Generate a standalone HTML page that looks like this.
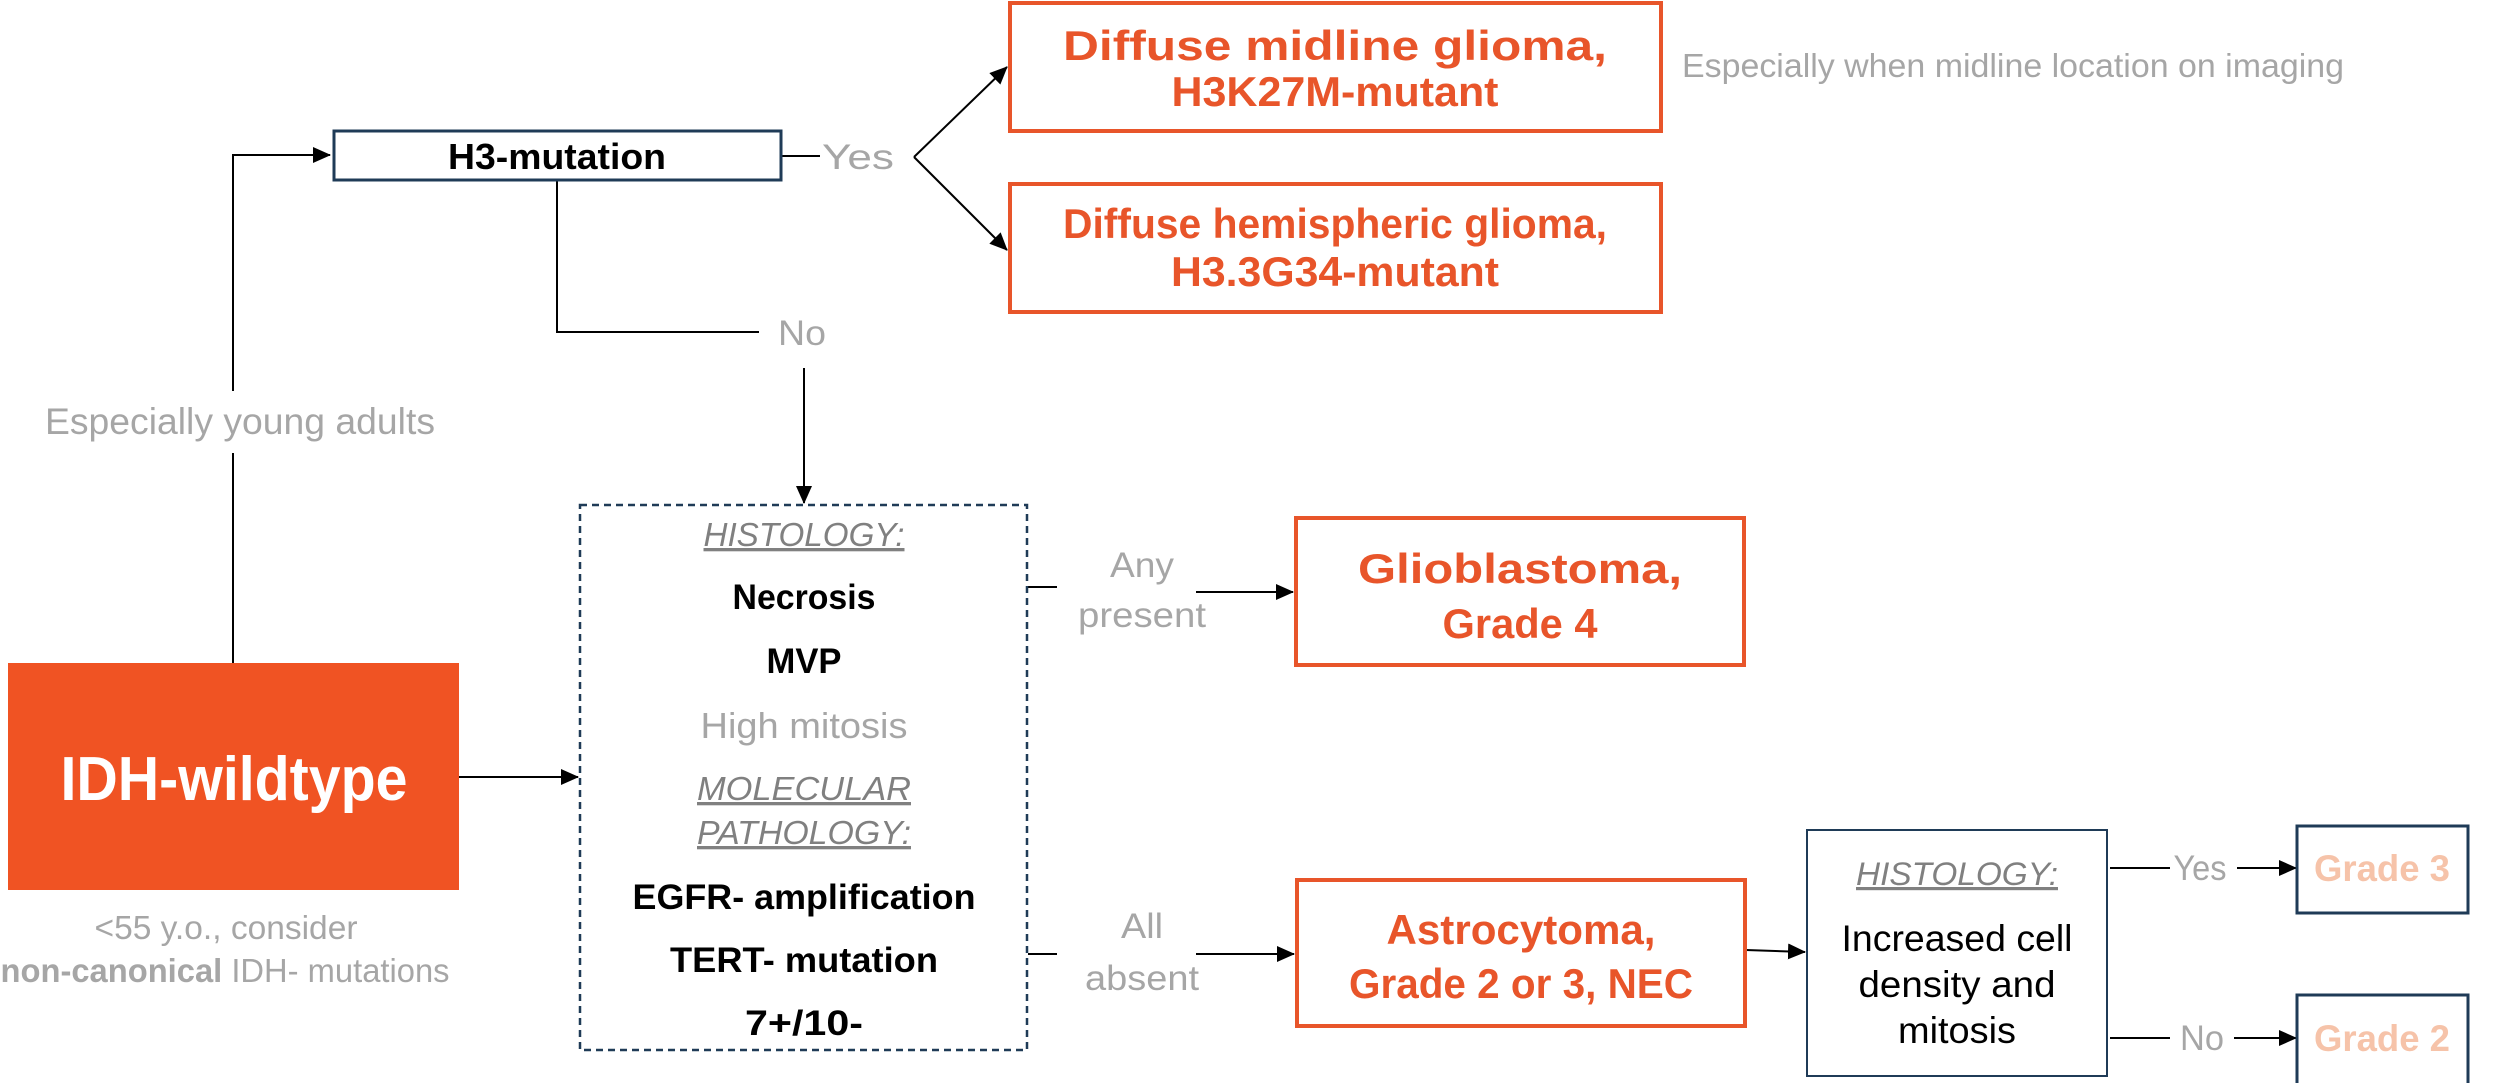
<!DOCTYPE html>
<html><head><meta charset="utf-8"><style>
html,body{margin:0;padding:0;background:#fff}
svg{display:block}
text{font-family:"Liberation Sans",sans-serif}
.o{fill:#e8552a;font-weight:bold;font-size:42px}
.g{fill:#a6a6a6;font-size:35px}
.b{fill:#000;font-weight:bold;font-size:35px}
.it{fill:#808080;font-style:italic;font-size:33px;text-decoration:underline}
</style></head><body>
<svg width="2500" height="1083" viewBox="0 0 2500 1083" xmlns="http://www.w3.org/2000/svg">
<defs>
<marker id="s" markerWidth="18" markerHeight="16" refX="17" refY="8" orient="auto" markerUnits="userSpaceOnUse"><path d="M0,0 L18,8 L0,16 z" fill="#000"/></marker></defs>
<g stroke="#000" stroke-width="2" fill="none">
<polyline points="233,391 233,155 330,155" marker-end="url(#s)"/>
<line x1="233" y1="453" x2="233" y2="664"/>
<line x1="781" y1="156" x2="820" y2="156"/>
<line x1="914" y1="157" x2="1007" y2="67" marker-end="url(#s)"/>
<line x1="914" y1="157" x2="1007" y2="250" marker-end="url(#s)"/>
<polyline points="557,180 557,332 759,332"/>
<line x1="804" y1="368" x2="804" y2="503" marker-end="url(#s)"/>
<line x1="459" y1="777" x2="578" y2="777" marker-end="url(#s)"/>
<line x1="1028" y1="587" x2="1057" y2="587"/>
<line x1="1196" y1="592" x2="1293" y2="592" marker-end="url(#s)"/>
<line x1="1028" y1="954" x2="1057" y2="954"/>
<line x1="1196" y1="954" x2="1294" y2="954" marker-end="url(#s)"/>
<line x1="1746" y1="950" x2="1805" y2="952" marker-end="url(#s)"/>
<line x1="2110" y1="868" x2="2170" y2="868"/>
<line x1="2237" y1="868" x2="2296" y2="868" marker-end="url(#s)"/>
<line x1="2110" y1="1038" x2="2170" y2="1038"/>
<line x1="2234" y1="1038" x2="2296" y2="1038" marker-end="url(#s)"/>
</g>
<rect x="1010" y="3" width="651" height="128" fill="#fff" stroke="#e8552a" stroke-width="4"/>
<rect x="1010" y="184" width="651" height="128" fill="#fff" stroke="#e8552a" stroke-width="4"/>
<rect x="334" y="131" width="447" height="49" fill="#fff" stroke="#1f3b57" stroke-width="3"/>
<rect x="8" y="663" width="451" height="227" fill="#f05323"/>
<rect x="580" y="505" width="447" height="545" fill="none" stroke="#1f3b57" stroke-width="2.5" stroke-dasharray="7,5"/>
<rect x="1296" y="518" width="448" height="147" fill="#fff" stroke="#e8552a" stroke-width="4"/>
<rect x="1297" y="880" width="448" height="146" fill="#fff" stroke="#e8552a" stroke-width="4"/>
<rect x="1807" y="830" width="300" height="246" fill="#fff" stroke="#1f3b57" stroke-width="2"/>
<rect x="2297" y="826" width="171" height="87" fill="#fff" stroke="#1f3b57" stroke-width="3"/>
<rect x="2297" y="995" width="171" height="90" fill="#fff" stroke="#1f3b57" stroke-width="3"/>
<g text-anchor="middle">
<text class="o" x="1335" y="60" textLength="544" lengthAdjust="spacingAndGlyphs">Diffuse midline glioma,</text>
<text class="o" x="1335" y="106" textLength="327" lengthAdjust="spacingAndGlyphs">H3K27M-mutant</text>
<text class="o" x="1335" y="238" textLength="544" lengthAdjust="spacingAndGlyphs">Diffuse hemispheric glioma,</text>
<text class="o" x="1335" y="286" textLength="328" lengthAdjust="spacingAndGlyphs">H3.3G34-mutant</text>
<text x="557" y="169" style="font-weight:bold;font-size:36px;fill:#000" textLength="218" lengthAdjust="spacingAndGlyphs">H3-mutation</text>
<text class="g" x="858" y="169" textLength="72" lengthAdjust="spacingAndGlyphs">Yes</text>
<text class="g" x="802" y="345" textLength="48" lengthAdjust="spacingAndGlyphs">No</text>
<text class="g" x="240" y="434" style="font-size:37px" textLength="390" lengthAdjust="spacingAndGlyphs">Especially young adults</text>
<text x="234" y="800" style="fill:#fff;font-size:62px;font-weight:bold" textLength="347" lengthAdjust="spacingAndGlyphs">IDH-wildtype</text>
<text class="g" x="226" y="939" style="font-size:33px" textLength="263" lengthAdjust="spacingAndGlyphs">&lt;55 y.o., consider</text>
<text class="g" x="225" y="982" style="font-size:33px" textLength="449" lengthAdjust="spacingAndGlyphs"><tspan style="font-weight:bold">non-canonical</tspan> IDH- mutations</text>
<text class="it" x="804" y="546" textLength="201" lengthAdjust="spacingAndGlyphs">HISTOLOGY:</text>
<text class="b" x="804" y="609" textLength="143" lengthAdjust="spacingAndGlyphs">Necrosis</text>
<text class="b" x="804" y="673" textLength="75" lengthAdjust="spacingAndGlyphs">MVP</text>
<text class="g" x="804" y="738" style="font-size:36px" textLength="207" lengthAdjust="spacingAndGlyphs">High mitosis</text>
<text class="it" x="804" y="800" textLength="214" lengthAdjust="spacingAndGlyphs">MOLECULAR</text>
<text class="it" x="804" y="844" textLength="214" lengthAdjust="spacingAndGlyphs">PATHOLOGY:</text>
<text class="b" x="804" y="909" textLength="343" lengthAdjust="spacingAndGlyphs">EGFR- amplification</text>
<text class="b" x="804" y="972" textLength="268" lengthAdjust="spacingAndGlyphs">TERT- mutation</text>
<text class="b" x="804" y="1035" textLength="118" lengthAdjust="spacingAndGlyphs">7+/10-</text>
<text class="g" x="1142" y="577" textLength="64" lengthAdjust="spacingAndGlyphs">Any</text>
<text class="g" x="1142" y="627" textLength="128" lengthAdjust="spacingAndGlyphs">present</text>
<text class="g" x="1142" y="938" textLength="42" lengthAdjust="spacingAndGlyphs">All</text>
<text class="g" x="1142" y="990" textLength="114" lengthAdjust="spacingAndGlyphs">absent</text>
<text class="o" x="1520" y="583" textLength="324" lengthAdjust="spacingAndGlyphs">Glioblastoma,</text>
<text class="o" x="1520" y="638" textLength="155" lengthAdjust="spacingAndGlyphs">Grade 4</text>
<text class="o" x="1521" y="944" textLength="269" lengthAdjust="spacingAndGlyphs">Astrocytoma,</text>
<text class="o" x="1521" y="998" textLength="344" lengthAdjust="spacingAndGlyphs">Grade 2 or 3, NEC</text>
<text class="it" x="1957" y="885" style="font-size:32px" textLength="202" lengthAdjust="spacingAndGlyphs">HISTOLOGY:</text>
<text x="1957" y="951" style="font-size:37px;fill:#000" textLength="231" lengthAdjust="spacingAndGlyphs">Increased cell</text>
<text x="1957" y="997" style="font-size:37px;fill:#000" textLength="197" lengthAdjust="spacingAndGlyphs">density and</text>
<text x="1957" y="1043" style="font-size:37px;fill:#000" textLength="118" lengthAdjust="spacingAndGlyphs">mitosis</text>
<text class="g" x="2200" y="880" textLength="53" lengthAdjust="spacingAndGlyphs">Yes</text>
<text class="g" x="2202" y="1050" textLength="44" lengthAdjust="spacingAndGlyphs">No</text>
<text x="2382" y="881" style="font-size:37px;font-weight:bold;fill:#f6c3a9" textLength="136" lengthAdjust="spacingAndGlyphs">Grade 3</text>
<text x="2382" y="1051" style="font-size:37px;font-weight:bold;fill:#f6c3a9" textLength="136" lengthAdjust="spacingAndGlyphs">Grade 2</text>
</g>
<text class="g" x="1682" y="77" style="font-size:33px" textLength="662" lengthAdjust="spacingAndGlyphs">Especially when midline location on imaging</text>
</svg>
</body></html>
